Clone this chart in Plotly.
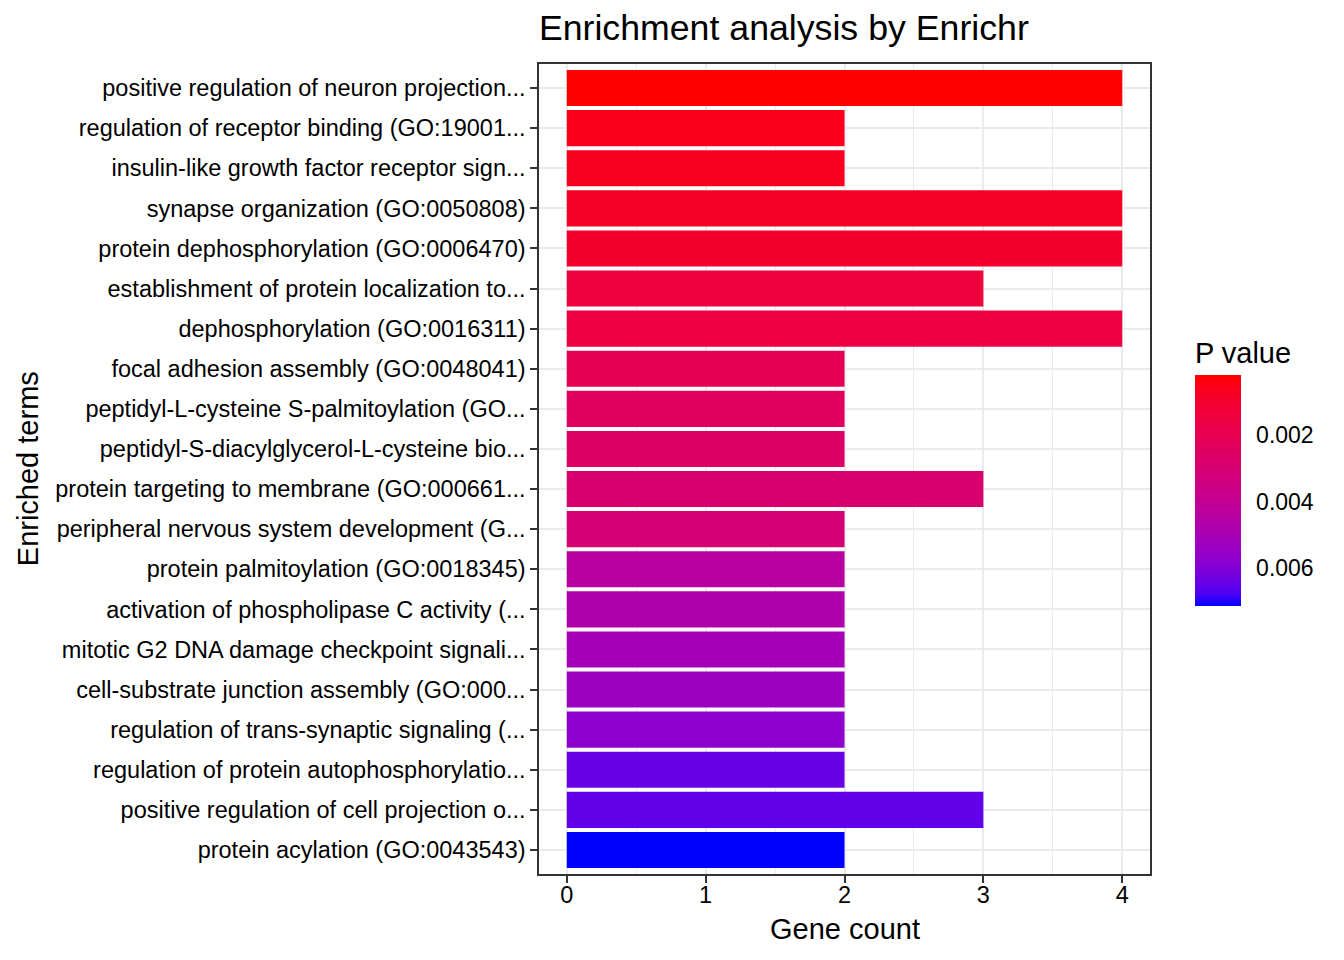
import numpy as np
import plotly.graph_objects as go

# Enrichr result, top term first
TERMS = [
    'positive regulation of neuron projection...',
    'regulation of receptor binding (GO:19001...',
    'insulin-like growth factor receptor sign...',
    'synapse organization (GO:0050808)',
    'protein dephosphorylation (GO:0006470)',
    'establishment of protein localization to...',
    'dephosphorylation (GO:0016311)',
    'focal adhesion assembly (GO:0048041)',
    'peptidyl-L-cysteine S-palmitoylation (GO...',
    'peptidyl-S-diacylglycerol-L-cysteine bio...',
    'protein targeting to membrane (GO:000661...',
    'peripheral nervous system development (G...',
    'protein palmitoylation (GO:0018345)',
    'activation of phospholipase C activity (...',
    'mitotic G2 DNA damage checkpoint signali...',
    'cell-substrate junction assembly (GO:000...',
    'regulation of trans-synaptic signaling (...',
    'regulation of protein autophosphorylatio...',
    'positive regulation of cell projection o...',
    'protein acylation (GO:0043543)',
]
GENE_COUNT = [4, 2, 2, 4, 4, 3, 4, 2, 2, 2, 3, 2, 2, 2, 2, 2, 2, 2, 3, 2]
P_VALUE = [0.00018, 0.00060, 0.00067, 0.00081, 0.00095, 0.00137, 0.00151,
           0.00206, 0.00241, 0.00255, 0.00283, 0.00304, 0.00443, 0.00475,
           0.00506, 0.00534, 0.00576, 0.00645, 0.00652, 0.00715]
CB_TICKS = [0.002, 0.004, 0.006]

FONT = 'Liberation Sans, Arial, sans-serif'


# ggplot's gradient is interpolated in CIELAB, so build the scale the same way
def hex_to_lab(h):
    rgb = np.array([int(h[i:i + 2], 16) / 255 for i in (1, 3, 5)])
    lin = np.where(rgb <= 0.04045, rgb / 12.92, ((rgb + 0.055) / 1.055) ** 2.4)
    m = np.array([[0.4124, 0.3576, 0.1805],
                  [0.2126, 0.7152, 0.0722],
                  [0.0193, 0.1192, 0.9505]])
    xyz = m @ lin / np.array([0.95047, 1.0, 1.08883])
    f = np.where(xyz > 0.008856, np.cbrt(xyz), 7.787 * xyz + 16 / 116)
    return np.array([116 * f[1] - 16, 500 * (f[0] - f[1]), 200 * (f[1] - f[2])])


def lab_to_hex(lab):
    fy = (lab[0] + 16) / 116
    f = np.array([fy + lab[1] / 500, fy, fy - lab[2] / 200])
    xyz = np.where(f > 0.2069, f ** 3, (f - 16 / 116) / 7.787)
    xyz = xyz * np.array([0.95047, 1.0, 1.08883])
    m = np.array([[3.2406, -1.5372, -0.4986],
                  [-0.9689, 1.8758, 0.0415],
                  [0.0557, -0.2040, 1.0570]])
    lin = np.clip(m @ xyz, 0, 1)
    rgb = np.where(lin <= 0.0031308, 12.92 * lin, 1.055 * lin ** (1 / 2.4) - 0.055)
    return '#%02x%02x%02x' % tuple(int(round(c * 255)) for c in rgb)


lab_lo, lab_hi = hex_to_lab('#0000FF'), hex_to_lab('#FF0000')
colorscale = [[t, lab_to_hex(lab_lo + t * (lab_hi - lab_lo))]
              for t in np.linspace(0, 1, 21)]

# colour by -p so that small p (red) sits at the top of the colour bar
neg_p = [-p for p in P_VALUE]

fig = go.Figure(go.Bar(
    x=GENE_COUNT,
    y=TERMS,
    orientation='h',
    marker=dict(
        color=neg_p,
        colorscale=colorscale,
        line=dict(width=0),
        colorbar=dict(
            title=dict(text='P value', side='top',
                       font=dict(size=29, color='black', family=FONT)),
            tickvals=[-t for t in CB_TICKS],
            ticktext=['%.3f' % t for t in CB_TICKS],
            ticks='outside', ticklen=11, tickcolor='white', tickwidth=1,
            tickfont=dict(size=23, color='black', family=FONT),
            lenmode='pixels', len=268, thickness=46,
            x=1.0735, xanchor='left', y=0.3309, yanchor='bottom',
            xpad=0, ypad=0, outlinewidth=0,
        ),
    ),
    hoverinfo='x+y',
))

# the page puts the figure about 7px in from the top-left corner
fig.update_layout(
    width=1344, height=960,
    margin=dict(l=531, r=202, t=56, b=94),
    paper_bgcolor='white', plot_bgcolor='white',
    font=dict(family=FONT, size=23.5, color='black'),
    bargap=0.1,
    showlegend=False,
    title=dict(text='Enrichment analysis by Enrichr',
               font=dict(size=35.7, color='black', family=FONT),
               x=0.395, xref='container', xanchor='left',
               y=0.98, yref='container', yanchor='middle'),
    xaxis=dict(
        range=[-0.2, 4.2], dtick=1, tick0=0,
        showgrid=True, gridcolor='#EBEBEB', gridwidth=2,
        minor=dict(dtick=0.5, tick0=0, showgrid=True,
                   gridcolor='#EBEBEB', gridwidth=1),
        ticks='outside', ticklen=7, tickwidth=2, tickcolor='#333333',
        ticklabelstandoff=-8,
        tickfont=dict(size=23.5, color='black'),
        showline=True, mirror=True, linecolor='#333333', linewidth=1.5,
        zeroline=False,
    ),
    yaxis=dict(
        categoryorder='array', categoryarray=TERMS,
        range=[len(TERMS) - 0.4, -0.6],
        showgrid=True, gridcolor='#EBEBEB', gridwidth=2,
        ticks='outside', ticklen=7, tickwidth=2, tickcolor='#333333',
        ticklabelstandoff=0,
        tickfont=dict(size=23.5, color='black'),
        showline=True, mirror=True, linecolor='#333333', linewidth=1.5,
        zeroline=False,
    ),
    annotations=[
        dict(text='Gene count', xref='paper', yref='paper',
             x=0.5, y=-0.0679, xanchor='center', yanchor='middle',
             showarrow=False, font=dict(size=29, color='black')),
        dict(text='Enriched terms', xref='paper', yref='paper',
             x=-0.836, y=0.5, xanchor='center', yanchor='middle',
             textangle=-90, showarrow=False,
             font=dict(size=29, color='black')),
    ],
)

fig.write_html('out.html')
